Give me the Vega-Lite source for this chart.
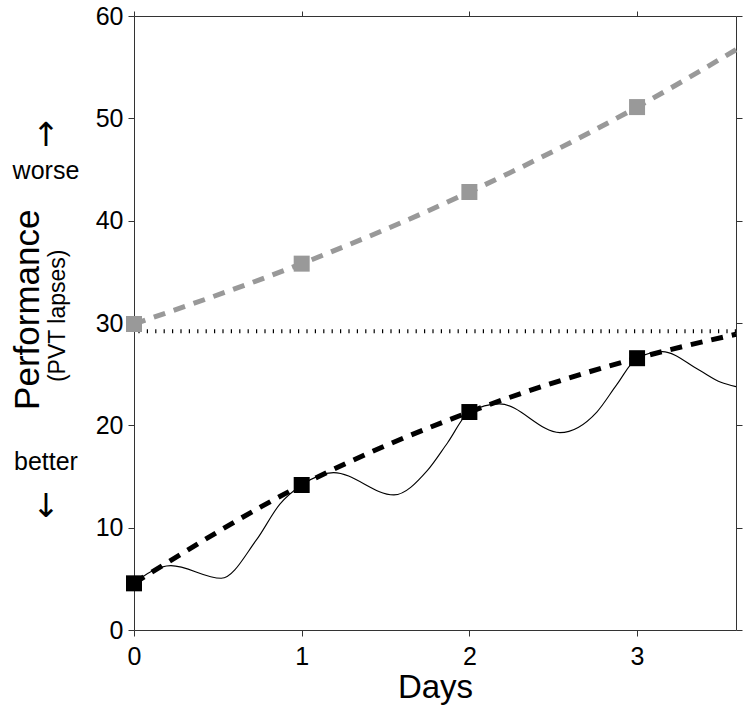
{
  "$schema": "https://vega.github.io/schema/vega-lite/v6.json",
  "width": 602,
  "height": 614,
  "autosize": {"type": "none"},
  "padding": {"left": 134, "top": 16, "right": 13, "bottom": 85},
  "config": {
    "font": "Liberation Sans",
    "view": {"stroke": null},
    "axis": {
      "grid": false,
      "labelFlush": false,
      "domainColor": "#333333",
      "tickColor": "#333333",
      "domainWidth": 1,
      "tickWidth": 1,
      "labelColor": "#000000",
      "titleColor": "#000000",
      "labelFont": "Liberation Sans",
      "titleFont": "Liberation Sans"
    }
  },
  "datasets": {
    "grayMarkers": [
      {"day": 0, "lapses": 29.9},
      {"day": 1, "lapses": 35.8},
      {"day": 2, "lapses": 42.8},
      {"day": 3, "lapses": 51.1}
    ],
    "grayFit": [
      {"day": 0, "lapses": 29.9},
      {"day": 1, "lapses": 35.8},
      {"day": 2, "lapses": 42.8},
      {"day": 3, "lapses": 51.1},
      {"day": 3.59, "lapses": 56.7}
    ],
    "blackMarkers": [
      {"day": 0, "lapses": 4.56},
      {"day": 1, "lapses": 14.17},
      {"day": 2, "lapses": 21.3},
      {"day": 3, "lapses": 26.56}
    ],
    "blackFit": [
      {"day": 0, "lapses": 4.56},
      {"day": 1, "lapses": 14.17},
      {"day": 2, "lapses": 21.3},
      {"day": 3, "lapses": 26.56},
      {"day": 3.59, "lapses": 28.9}
    ],
    "solid": [
      {"day": 0, "lapses": 4.56},
      {"day": 0.1, "lapses": 5.7},
      {"day": 0.22, "lapses": 6.29},
      {"day": 0.52, "lapses": 5.05},
      {"day": 0.73, "lapses": 8.8},
      {"day": 0.87, "lapses": 12.3},
      {"day": 1, "lapses": 14.17},
      {"day": 1.19, "lapses": 15.38},
      {"day": 1.55, "lapses": 13.2},
      {"day": 1.75, "lapses": 15.6},
      {"day": 1.87, "lapses": 18.3},
      {"day": 2, "lapses": 21.3},
      {"day": 2.18, "lapses": 22.1},
      {"day": 2.54, "lapses": 19.29},
      {"day": 2.76, "lapses": 21.3},
      {"day": 2.88, "lapses": 24.0},
      {"day": 3, "lapses": 26.56},
      {"day": 3.15, "lapses": 27.2},
      {"day": 3.37, "lapses": 25.4},
      {"day": 3.5, "lapses": 24.2},
      {"day": 3.59, "lapses": 23.78}
    ]
  },
  "layer": [
    {
      "data": {"values": [{"lapses": 29.2}]},
      "mark": {"type": "rule", "color": "#000000", "strokeWidth": 4, "strokeDash": [1.2, 7.2]},
      "encoding": {
        "y": {"field": "lapses", "type": "quantitative", "scale": {"domain": [0, 60], "nice": false, "zero": false}, "axis": null}
      }
    },
    {
      "data": {"name": "grayFit"},
      "mark": {"type": "line", "color": "#999999", "strokeWidth": 5, "strokeDash": [12, 9], "interpolate": "monotone"},
      "encoding": {
        "x": {"field": "day", "type": "quantitative", "scale": {"domain": [0, 3.59], "nice": false, "zero": false}, "axis": null},
        "y": {"field": "lapses", "type": "quantitative", "scale": {"domain": [0, 60], "nice": false, "zero": false}, "axis": null}
      }
    },
    {
      "data": {"name": "grayMarkers"},
      "mark": {"type": "point", "shape": "square", "filled": true, "size": 256, "color": "#999999", "opacity": 1},
      "encoding": {
        "x": {"field": "day", "type": "quantitative", "scale": {"domain": [0, 3.59], "nice": false, "zero": false},
          "axis": {"orient": "top", "values": [0, 1, 2, 3], "labels": false, "title": null, "tickSize": 5}},
        "y": {"field": "lapses", "type": "quantitative", "scale": {"domain": [0, 60], "nice": false, "zero": false},
          "axis": {"orient": "right", "values": [0, 10, 20, 30, 40, 50, 60], "labels": false, "title": null, "tickSize": 6}}
      }
    },
    {
      "data": {"name": "solid"},
      "mark": {"type": "line", "color": "#000000", "strokeWidth": 1.1, "interpolate": "monotone"},
      "encoding": {
        "x": {"field": "day", "type": "quantitative", "scale": {"domain": [0, 3.59], "nice": false, "zero": false}, "axis": null},
        "y": {"field": "lapses", "type": "quantitative", "scale": {"domain": [0, 60], "nice": false, "zero": false}, "axis": null}
      }
    },
    {
      "data": {"name": "blackFit"},
      "mark": {"type": "line", "color": "#000000", "strokeWidth": 5, "strokeDash": [12, 9], "interpolate": "monotone"},
      "encoding": {
        "x": {"field": "day", "type": "quantitative", "scale": {"domain": [0, 3.59], "nice": false, "zero": false}, "axis": null},
        "y": {"field": "lapses", "type": "quantitative", "scale": {"domain": [0, 60], "nice": false, "zero": false}, "axis": null}
      }
    },
    {
      "data": {"name": "blackMarkers"},
      "mark": {"type": "point", "shape": "square", "filled": true, "size": 256, "color": "#000000", "opacity": 1},
      "encoding": {
        "x": {"field": "day", "type": "quantitative", "scale": {"domain": [0, 3.59], "nice": false, "zero": false},
          "axis": {"orient": "bottom", "values": [0, 1, 2, 3], "format": "d", "title": "Days", "titleFontSize": 33, "titleFontWeight": "normal", "titlePadding": 2, "labelFontSize": 25, "tickSize": 6, "labelPadding": 8}},
        "y": {"field": "lapses", "type": "quantitative", "scale": {"domain": [0, 60], "nice": false, "zero": false},
          "axis": {"orient": "left", "values": [0, 10, 20, 30, 40, 50, 60], "format": "d", "title": null, "labelFontSize": 25, "tickSize": 6, "labelPadding": 5}}
      }
    },
    {
      "data": {"values": [{"day": -0.632, "lapses": 31.3, "label": "Performance"}]},
      "mark": {"type": "text", "angle": 270, "fontSize": 35, "align": "center", "baseline": "middle", "color": "#000000"},
      "encoding": {
        "x": {"field": "day", "type": "quantitative", "scale": {"domain": [0, 3.59], "nice": false, "zero": false}, "axis": null},
        "y": {"field": "lapses", "type": "quantitative", "scale": {"domain": [0, 60], "nice": false, "zero": false}, "axis": null},
        "text": {"field": "label"}
      }
    },
    {
      "data": {"values": [{"day": -0.455, "lapses": 30.7, "label": "(PVT lapses)"}]},
      "mark": {"type": "text", "angle": 270, "fontSize": 23, "align": "center", "baseline": "middle", "color": "#000000"},
      "encoding": {
        "x": {"field": "day", "type": "quantitative", "scale": {"domain": [0, 3.59], "nice": false, "zero": false}, "axis": null},
        "y": {"field": "lapses", "type": "quantitative", "scale": {"domain": [0, 60], "nice": false, "zero": false}, "axis": null},
        "text": {"field": "label"}
      }
    },
    {
      "data": {"values": [{"day": -0.525, "lapses": 44.07, "label": "worse"}, {"day": -0.525, "lapses": 15.64, "label": "better"}]},
      "mark": {"type": "text", "fontSize": 25, "align": "center", "baseline": "alphabetic", "color": "#000000"},
      "encoding": {
        "x": {"field": "day", "type": "quantitative", "scale": {"domain": [0, 3.59], "nice": false, "zero": false}, "axis": null},
        "y": {"field": "lapses", "type": "quantitative", "scale": {"domain": [0, 60], "nice": false, "zero": false}, "axis": null},
        "text": {"field": "label"}
      }
    },
    {
      "data": {"values": [{"day": -0.525, "lapses": 48.3, "label": "↑"}, {"day": -0.525, "lapses": 12.0, "label": "↓"}]},
      "mark": {"type": "text", "font": "DejaVu Sans", "fontSize": 33, "align": "center", "baseline": "middle", "color": "#000000"},
      "encoding": {
        "x": {"field": "day", "type": "quantitative", "scale": {"domain": [0, 3.59], "nice": false, "zero": false}, "axis": null},
        "y": {"field": "lapses", "type": "quantitative", "scale": {"domain": [0, 60], "nice": false, "zero": false}, "axis": null},
        "text": {"field": "label"}
      }
    }
  ],
  "resolve": {"axis": {"x": "independent", "y": "independent"}}
}
